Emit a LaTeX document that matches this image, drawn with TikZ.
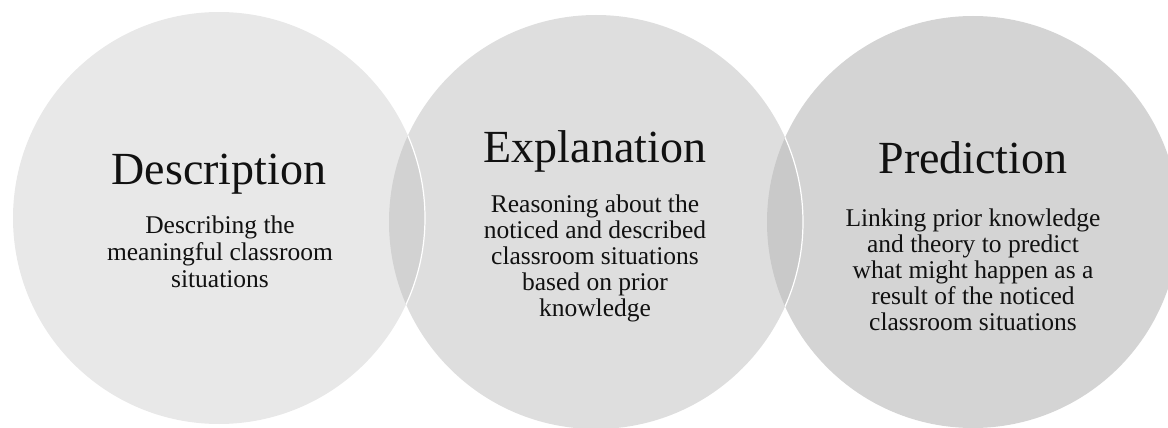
\documentclass[tikz,border=0pt]{standalone}
\usepackage{fontspec}
\setmainfont{Liberation Serif}
\definecolor{fillA}{HTML}{E8E8E8}
\definecolor{fillB}{HTML}{DEDEDE}
\definecolor{fillC}{HTML}{D4D4D4}
\definecolor{lensAB}{HTML}{D2D2D2}
\definecolor{lensBC}{HTML}{C9C9C9}
\definecolor{txt}{HTML}{111111}
\begin{document}
\begin{tikzpicture}[x=1pt,y=-1pt,
  title/.style={font=\fontsize{46}{50}\selectfont, anchor=base, inner sep=0pt, text=txt},
  body/.style={font=\fontsize{25.5}{26}\selectfont, align=center, anchor=base, inner sep=0pt, text=txt},
  rim/.style={draw=white, line width=1.2pt}]
\useasboundingbox (0,0) rectangle (1168,428);
\coordinate (cA) at (219,218);
\coordinate (cB) at (596,222);
\coordinate (cC) at (973,222);
% circles
\fill[fillC] (cC) circle[radius=206];
\fill[fillB] (cB) circle[radius=207];
\fill[fillA] (cA) circle[radius=206];
% overlaps
\begin{scope}
  \clip (cB) circle[radius=207];
  \fill[lensBC] (cC) circle[radius=206];
\end{scope}
\begin{scope}
  \clip (cA) circle[radius=206];
  \fill[lensAB] (cB) circle[radius=207];
\end{scope}
% white rims
\begin{scope}
  \clip (cC) circle[radius=206];
  \draw[rim] (cB) circle[radius=207];
\end{scope}
\begin{scope}
  \clip (cB) circle[radius=207];
  \draw[rim] (cA) circle[radius=206];
\end{scope}
% texts (body nodes anchored at the baseline of their last line)
\node[title] (tA) at (219,184) {Description};
\node[body, font=\fontsize{25.5}{27}\selectfont] (bA) at (220,287) {Describing the\\meaningful classroom\\situations};
\node[title] (tB) at (595,162) {Explanation};
\node[body] (bB) at (595,316) {Reasoning about the\\noticed and described\\classroom situations\\based on prior\\knowledge};
\node[title] (tC) at (973,173) {Prediction};
\node[body] (bC) at (973,330) {Linking prior knowledge\\and theory to predict\\what might happen as a\\result of the noticed\\classroom situations};
\end{tikzpicture}
\end{document}
